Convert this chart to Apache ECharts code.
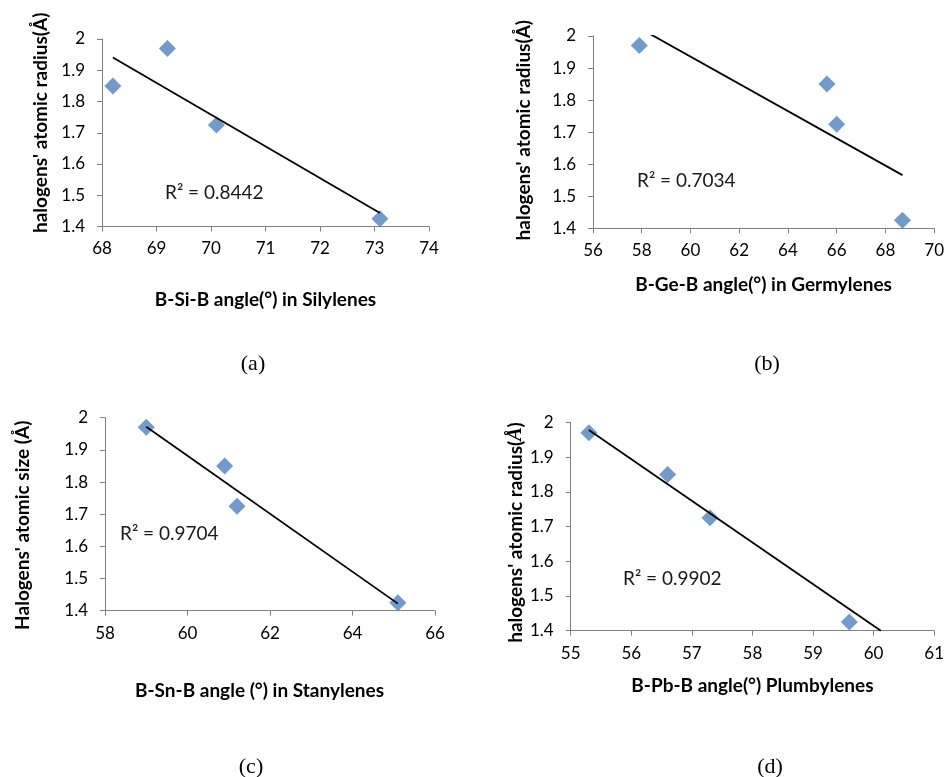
<!DOCTYPE html>
<html>
<head>
<meta charset="utf-8">
<title>Halogen atomic radius vs B-E-B angle</title>
<script src="https://cdn.jsdelivr.net/npm/echarts@6/dist/echarts.min.js"></script>
<style>
  html, body { margin: 0; padding: 0; background: #ffffff; }
  #chart { width: 947px; height: 777px; }
</style>
</head>
<body>
<div id="chart"></div>
<script>
// Halogen radii (Å), same order in every angle array below
const radius = [1.97, 1.85, 1.725, 1.425];

// B-E-B angles (°) for each tetrylene family
const siAngle = [69.2, 68.2, 70.1, 73.1];
const geAngle = [57.9, 65.6, 66.0, 68.7];
const snAngle = [59.0, 60.9, 61.2, 65.1];
const pbAngle = [55.3, 56.6, 57.3, 59.6];

// Linear trend line end points [angle, radius]
const siTrend = [[68.2, 1.9405], [73.1, 1.443]];
const geTrend = [[57.9, 2.025], [68.7, 1.566]];
const snTrend = [[59.0, 1.972], [65.1, 1.422]];
const pbTrend = [[55.3, 1.978], [60.12, 1.40]];

// Fit quality labels
const r2Labels = ['R² = 0.8442', 'R² = 0.7034', 'R² = 0.9704', 'R² = 0.9902'];

// Axis titles and panel tags
const xTitles = [
  'B-Si-B angle(°) in Silylenes',
  'B-Ge-B angle(°) in Germylenes',
  'B-Sn-B angle (°) in Stanylenes',
  'B-Pb-B angle(°) Plumbylenes'
];
const yTitles = [
  "halogens' atomic radius(Å)",
  "halogens' atomic radius(Å)",
  "Halogens' atomic size (Å)",
  "{t|halogens' atomic radius(}{i|Å}{t|)}"
];
const panelTags = ['(a)', '(b)', '(c)', '(d)'];

// X axis ranges [min, max, interval]
const xRanges = [[68, 74, 1], [56, 70, 2], [58, 66, 2], [55, 61, 1]];
const yRange = [1.4, 2.0, 0.1];

const angles = [siAngle, geAngle, snAngle, pbAngle];
const trends = [siTrend, geTrend, snTrend, pbTrend];

const FONT = 'Lato';
const AXIS_GRAY = '#808080';
const MARK_BLUE = '#4F81BD';

// Plot-area boxes of the four panels
const grids = [
  { left: 102, top: 39, width: 327, height: 187.5 },
  { left: 593, top: 36, width: 343.5, height: 192.3 },
  { left: 105, top: 417.7, width: 330, height: 193 },
  { left: 570.7, top: 422.3, width: 366, height: 208.4 }
];
const xNameGaps = [64, 47, 71, 46];
const xNamePad = [[0, 0, 0, 0], [0, 0, 0, 0], [0, 21, 0, 0], [0, 0, 0, 0]];
const yNameGaps = [52, 60, 73, 45];
const yNamePad = [[0, 0, 0, 20], [0, 0, 0, 4], [0, 22, 0, 0], [0, 12, 0, 0]];

// R² label positions (left, vertical centre) and panel tag centres
const r2Pos = [[165, 193], [637, 181], [120, 534], [623, 579]];
const tagPos = [[253, 364], [767, 364], [251, 767], [770, 767]];

const xAxis = [], yAxis = [], series = [], graphic = [];

for (let i = 0; i < 4; i++) {
  const [xmin, xmax, xint] = xRanges[i];
  xAxis.push({
    gridIndex: i,
    type: 'value',
    min: xmin, max: xmax, interval: xint,
    name: xTitles[i],
    nameLocation: 'middle',
    nameGap: xNameGaps[i],
    nameTextStyle: {
      fontFamily: FONT, fontWeight: 'bold', fontSize: 19, color: '#000',
      padding: xNamePad[i]
    },
    axisLine: { show: true, onZero: false, lineStyle: { color: AXIS_GRAY, width: 1 } },
    axisTick: { show: true, length: 5, lineStyle: { color: AXIS_GRAY } },
    axisLabel: { fontFamily: FONT, fontSize: 17, color: '#000', margin: 14 },
    splitLine: { show: false }
  });
  yAxis.push({
    gridIndex: i,
    type: 'value',
    min: yRange[0], max: yRange[1], interval: yRange[2],
    name: yTitles[i],
    nameLocation: 'middle',
    nameRotate: 90,
    nameGap: yNameGaps[i],
    nameTextStyle: {
      fontFamily: FONT, fontWeight: 'bold', fontSize: 19, color: '#000',
      padding: yNamePad[i],
      rich: {
        t: { fontFamily: FONT, fontWeight: 'bold', fontSize: 19, color: '#000' },
        i: { fontFamily: 'Liberation Serif', fontStyle: 'italic', fontSize: 20, color: '#000' }
      }
    },
    axisLine: { show: true, lineStyle: { color: AXIS_GRAY, width: 1 } },
    axisTick: { show: true, length: 5, lineStyle: { color: AXIS_GRAY } },
    axisLabel: { fontFamily: FONT, fontSize: 17, color: '#000', margin: 17 },
    splitLine: { show: false }
  });

  series.push({
    type: 'scatter',
    xAxisIndex: i, yAxisIndex: i,
    symbol: 'diamond',
    symbolSize: 17,
    itemStyle: { color: MARK_BLUE },
    data: angles[i].map((a, k) => [a, radius[k]]),
    z: 2
  });
  series.push({
    type: 'line',
    xAxisIndex: i, yAxisIndex: i,
    data: trends[i],
    symbol: 'none',
    clip: true,
    lineStyle: { color: '#000', width: 1.8 },
    z: 3
  });

  graphic.push({
    type: 'text',
    x: r2Pos[i][0], y: r2Pos[i][1],
    style: {
      text: r2Labels[i], fontFamily: FONT, fontSize: 19, fill: '#1a1a1a',
      align: 'left', verticalAlign: 'middle'
    }
  });
  graphic.push({
    type: 'text',
    x: tagPos[i][0], y: tagPos[i][1],
    style: {
      text: panelTags[i], fontFamily: 'Liberation Serif', fontSize: 22, fill: '#000',
      align: 'center', verticalAlign: 'middle'
    }
  });
}

const chart = echarts.init(document.getElementById('chart'), null, { renderer: 'canvas' });
chart.setOption({
  backgroundColor: '#ffffff',
  animation: false,
  grid: grids.map(g => Object.assign({ containLabel: false }, g)),
  xAxis: xAxis,
  yAxis: yAxis,
  series: series,
  graphic: graphic
});
</script>
</body>
</html>
